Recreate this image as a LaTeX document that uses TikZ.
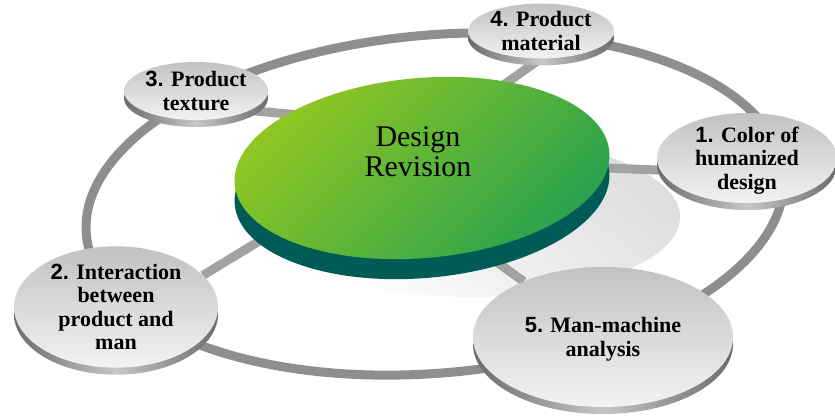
\documentclass[tikz,border=0pt]{standalone}
\usepackage{fontspec}
\setmainfont{Liberation Serif}
\newfontfamily\numfont{Liberation Sans}
\usetikzlibrary{shapes.geometric}
\usetikzlibrary{shadows}
\definecolor{discyellow}{HTML}{93C720}
\definecolor{discgreen}{HTML}{27A24F}
\definecolor{discside}{HTML}{005B57}
\definecolor{ringgray}{HTML}{8E8E8E}
\definecolor{spokegray}{HTML}{A2A2A2}
\pgfdeclarelayer{back}
\pgfdeclarelayer{mid}
\pgfsetlayers{back,mid,main}
\tikzstyle{ring}=[draw=ringgray, line width=9pt]
\tikzstyle{spoke}=[draw=spokegray, line width=9pt]
\tikzstyle{satellite}=[ellipse, inner sep=0, outer sep=0,
                       top color=black!24, bottom color=black!5,
                       % The rim of each disc is a shifted copy.
                       general shadow={shadow yshift=-7pt, left color=black!58, right color=black!58, middle color=black!22},
                       font=\bfseries\fontsize{22}{23.5}\selectfont, align=center]
\tikzstyle{hubtext}=[inner sep=0, font=\fontsize{30}{30}\selectfont, align=center]
\tikzstyle{revisionwheel}=[x=1pt, y=-1pt,
                           % Pixel-like coordinates, origin in the top left corner.
                           every node/.style={text depth=0pt}]

\begin{document}
\begin{tikzpicture}[revisionwheel]
        \useasboundingbox (0, 0) rectangle (835, 416);
        % Central disc.
        \fill[discside, rotate around={5:(422, 188)}] (422, 188) ellipse [x radius=188pt, y radius=90pt];
        \shade[top color=discyellow, bottom color=discgreen, shading angle=45, rotate around={5:(422, 168)}]
            (422, 168) ellipse [x radius=188pt, y radius=90pt];
        \node[hubtext] (hub) at (418, 152) {Design\\Revision};
        \node[satellite, minimum width=180pt, minimum height=90pt]  (s1) at (747, 158) {{\numfont 1.} Color of\\humanized\\design};
        \node[satellite, minimum width=204pt, minimum height=112pt] (s2) at (116, 307) {{\numfont 2.} Interaction\\between\\product and\\man};
        \node[satellite, minimum width=144pt, minimum height=58pt]  (s3) at (196, 91)  {{\numfont 3.} Product\\texture};
        \node[satellite, minimum width=146pt, minimum height=52pt]  (s4) at (541, 31)  {{\numfont 4.} Product\\material};
        \node[satellite, minimum width=260pt, minimum height=140pt] (s5) at (603, 337) {{\numfont 5.} Man-machine\\analysis};
        \coordinate (c1) at (560, 166);
        \coordinate (c2) at (330, 198);
        \coordinate (c3) at (400, 124);
        \coordinate (c4) at (412, 150);
        \coordinate (c5) at (440, 221);
        \begin{pgfonlayer}{mid}
            \draw[spoke] (c1) -- (s1.188);
            \draw[spoke] (c2) -- (s2.20);
            \draw[spoke] (c3) -- (s3.-20);
            \draw[spoke] (c4) -- (s4.south);
            \draw[spoke] (c5) -- (s5.145);
        \end{pgfonlayer}
        \begin{pgfonlayer}{back}
            \draw[ring, rotate around={5:(435, 204)}] (435, 204) ellipse [x radius=350pt, y radius=169pt];
            \shade[top color=black!13, bottom color=white, shading angle=-40] (470, 217) ellipse [x radius=210pt, y radius=80pt];
        \end{pgfonlayer}
    \end{tikzpicture}
\end{document}
